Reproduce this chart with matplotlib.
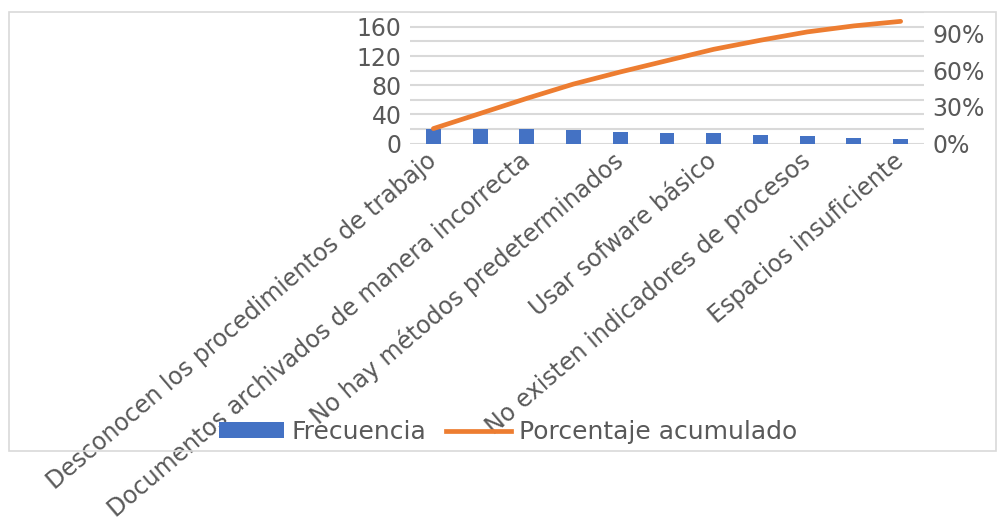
import matplotlib
matplotlib.use("Agg")
import matplotlib.pyplot as plt
from matplotlib.patches import Rectangle, Patch
from matplotlib.lines import Line2D
from matplotlib.ticker import MultipleLocator, PercentFormatter

# causas visibles en el eje (Excel solo rotula una de cada dos)
causas = [
    "Desconocen los procedimientos de trabajo",
    "Documentos archivados de manera incorrecta",
    "No hay métodos predeterminados",
    "Usar sofware básico",
    "No existen indicadores de procesos",
    "Espacios insuficiente",
]
frecuencia = [20, 20, 20, 19, 16, 15, 15, 12, 11, 8, 6]

total = sum(frecuencia)
acumulado = []
suma = 0
for f in frecuencia:
    suma += f
    acumulado.append(suma / total)

azul = "#4472C4"
naranja = "#ED7D31"
gris_texto = "#595959"
gris_linea = "#D9D9D9"

plt.rcParams["font.family"] = ["DejaVu Sans"]
plt.rcParams["font.size"] = 17

fig = plt.figure(figsize=(9.97, 5.25), dpi=100)

# marco del grafico
fig.patches.append(Rectangle((9 / 997, 1 - 451 / 525), 987 / 997, 439 / 525,
                             transform=fig.transFigure, fill=False,
                             edgecolor=gris_linea, linewidth=1.2, zorder=0))

ax = fig.add_axes([410 / 997, 1 - 143.7 / 525, 514 / 997, 131.4 / 525])
x = list(range(len(frecuencia)))
ax.bar(x, frecuencia, width=0.32, color=azul, zorder=2)
ax.set_xlim(-0.5, len(frecuencia) - 0.5)
ax.set_ylim(0, 180)
ax.yaxis.set_minor_locator(MultipleLocator(20))
ax.set_yticks([0, 40, 80, 120, 160])
ax.grid(axis="y", which="both", color=gris_linea, linewidth=1.5, zorder=0)
ax.set_axisbelow(True)
for s in ax.spines.values():
    s.set_visible(False)
ax.tick_params(axis="y", which="both", length=0, pad=6, colors=gris_texto)
ax.tick_params(axis="x", length=0, pad=10)

ax.set_xticks(x[::2])
ax.set_xticklabels(causas, rotation=40.5, ha="right", va="center",
                   rotation_mode="anchor", color=gris_texto)

ax2 = ax.twinx()
ax2.plot(x, acumulado, color=naranja, linewidth=3.4,
         solid_capstyle="round", zorder=3)
ax2.set_ylim(0, 1.074)
ax2.set_yticks([0, 0.3, 0.6, 0.9])
ax2.yaxis.set_major_formatter(PercentFormatter(1.0, decimals=0))
for s in ax2.spines.values():
    s.set_visible(False)
ax2.tick_params(axis="y", length=0, pad=6, colors=gris_texto)

handles = [Patch(facecolor=azul, label="Frecuencia"),
           Line2D([], [], color=naranja, linewidth=3.4, label="Porcentaje acumulado")]
fig.legend(handles=handles, loc="center", bbox_to_anchor=(508 / 997, 1 - 432 / 525),
           ncol=2, frameon=False, handlelength=2.6, handleheight=0.6,
           handletextpad=0.3, columnspacing=0.8, labelcolor=gris_texto,
           fontsize=18)

fig.savefig("out.png", dpi=100)
